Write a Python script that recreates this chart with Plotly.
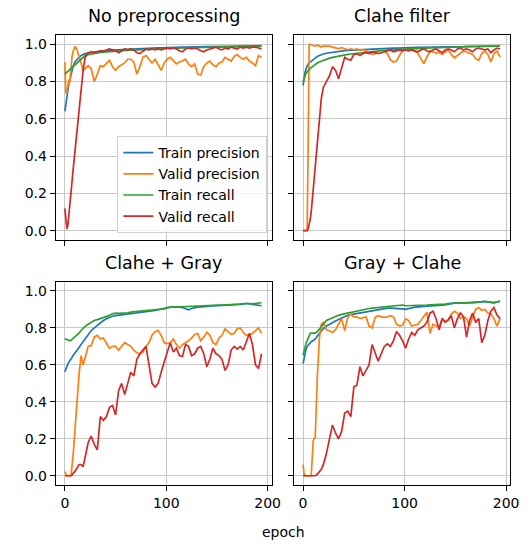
import plotly.graph_objects as go
from plotly.subplots import make_subplots

epochs = [0, 1, 2, 3, 4, 5, 6, 7, 8, 10, 12, 14, 16, 18, 20,
          23, 26, 29, 32, 35, 38, 41, 44, 47, 50, 53, 56, 59, 62,
          65, 68, 71, 74, 77, 80, 83, 86, 89, 92, 95, 98, 101, 104,
          107, 110, 113, 116, 119, 122, 125, 128, 131, 134, 137, 140, 143, 146,
          149, 152, 155, 158, 161, 164, 167, 170, 173, 176, 179, 182, 185, 188, 191, 194]

# No preprocessing
np_train_prec = [0.64, 0.68, 0.72, 0.76, 0.79, 0.81, 0.84, 0.86, 0.88, 0.905, 0.92, 0.93, 0.94, 0.945, 0.95,
                 0.953, 0.957, 0.96, 0.961, 0.963, 0.966, 0.967, 0.968, 0.969, 0.97, 0.971, 0.972, 0.972, 0.974,
                 0.975, 0.975, 0.976, 0.977, 0.977, 0.978, 0.979, 0.979, 0.98, 0.981, 0.981, 0.982, 0.982, 0.983,
                 0.983, 0.984, 0.984, 0.985, 0.985, 0.986, 0.986, 0.986, 0.987, 0.987, 0.987, 0.988, 0.988, 0.988,
                 0.989, 0.989, 0.989, 0.99, 0.99, 0.99, 0.99, 0.991, 0.991, 0.991, 0.991, 0.992, 0.992, 0.992, 0.992, 0.993]
np_valid_prec = [0.905, 0.74, 0.74, 0.78, 0.81, 0.80, 0.90, 0.93, 0.96, 0.99, 0.97, 0.94, 0.90, 0.86, 0.87,
                 0.885, 0.87, 0.80, 0.84, 0.885, 0.88, 0.90, 0.915, 0.88, 0.86, 0.88, 0.89, 0.90, 0.92,
                 0.92, 0.905, 0.84, 0.88, 0.93, 0.94, 0.92, 0.90, 0.92, 0.89, 0.86, 0.90, 0.92, 0.93,
                 0.91, 0.895, 0.905, 0.91, 0.92, 0.895, 0.88, 0.895, 0.84, 0.835, 0.88, 0.90, 0.91, 0.89,
                 0.88, 0.90, 0.905, 0.93, 0.92, 0.91, 0.935, 0.945, 0.93, 0.92, 0.93, 0.91, 0.90, 0.885, 0.94, 0.93]
np_train_rec = [0.84, 0.845, 0.85, 0.853, 0.857, 0.862, 0.868, 0.874, 0.88, 0.89, 0.90, 0.91, 0.92, 0.93, 0.94,
                0.944, 0.948, 0.951, 0.954, 0.956, 0.958, 0.96, 0.961, 0.963, 0.964, 0.965, 0.966, 0.967, 0.968,
                0.969, 0.97, 0.97, 0.971, 0.972, 0.973, 0.974, 0.974, 0.975, 0.976, 0.976, 0.977, 0.978, 0.978,
                0.979, 0.979, 0.98, 0.98, 0.981, 0.981, 0.982, 0.982, 0.982, 0.983, 0.983, 0.984, 0.984, 0.984,
                0.985, 0.985, 0.985, 0.986, 0.986, 0.986, 0.987, 0.987, 0.987, 0.988, 0.988, 0.988, 0.988, 0.989, 0.989, 0.989]
np_valid_rec = [0.12, 0.06, 0.01, 0.03, 0.08, 0.14, 0.20, 0.26, 0.32, 0.43, 0.54, 0.65, 0.76, 0.86, 0.93,
                0.955, 0.96, 0.955, 0.96, 0.965, 0.962, 0.97, 0.975, 0.97, 0.965, 0.955, 0.965, 0.975, 0.97,
                0.975, 0.97, 0.955, 0.95, 0.965, 0.975, 0.97, 0.975, 0.97, 0.975, 0.97, 0.975, 0.98, 0.975,
                0.98, 0.975, 0.965, 0.96, 0.975, 0.98, 0.975, 0.98, 0.975, 0.965, 0.96, 0.97, 0.975, 0.98,
                0.985, 0.975, 0.97, 0.98, 0.975, 0.985, 0.98, 0.975, 0.985, 0.98, 0.985, 0.98, 0.985, 0.985, 0.98, 0.975]

# Clahe filter
cf_train_prec = [0.78, 0.82, 0.85, 0.87, 0.885, 0.895, 0.90, 0.905, 0.91, 0.92, 0.93, 0.935, 0.94, 0.945, 0.948,
                 0.952, 0.955, 0.957, 0.96, 0.962, 0.964, 0.966, 0.967, 0.968, 0.97, 0.971, 0.972, 0.973, 0.974,
                 0.975, 0.976, 0.977, 0.977, 0.978, 0.978, 0.979, 0.979, 0.98, 0.98, 0.981, 0.981, 0.982, 0.982,
                 0.983, 0.983, 0.984, 0.984, 0.984, 0.985, 0.985, 0.985, 0.986, 0.986, 0.986, 0.987, 0.987, 0.987,
                 0.988, 0.988, 0.988, 0.988, 0.989, 0.989, 0.989, 0.989, 0.99, 0.99, 0.99, 0.99, 0.99, 0.991, 0.991, 0.991]
cf_valid_prec = [0.0, 0.0, 0.0, 0.0, 0.0, 0.45, 1.0, 1.0, 0.998, 0.995, 0.99, 0.995, 0.99, 0.985, 0.99,
                 0.99, 0.99, 0.985, 0.982, 0.977, 0.982, 0.977, 0.971, 0.975, 0.971, 0.975, 0.968, 0.971, 0.964,
                 0.953, 0.946, 0.95, 0.964, 0.968, 0.964, 0.95, 0.918, 0.905, 0.91, 0.94, 0.968, 0.971, 0.975,
                 0.971, 0.964, 0.953, 0.923, 0.896, 0.932, 0.964, 0.959, 0.953, 0.957, 0.946, 0.959, 0.968, 0.946,
                 0.928, 0.94, 0.953, 0.964, 0.959, 0.953, 0.946, 0.923, 0.914, 0.95, 0.964, 0.946, 0.905, 0.95, 0.964, 0.932]
cf_train_rec = [0.80, 0.82, 0.835, 0.845, 0.852, 0.86, 0.865, 0.87, 0.875, 0.885, 0.893, 0.90, 0.905, 0.91, 0.915,
                0.92, 0.926, 0.93, 0.934, 0.937, 0.94, 0.943, 0.946, 0.948, 0.95, 0.952, 0.955, 0.957, 0.959,
                0.962, 0.964, 0.965, 0.966, 0.967, 0.968, 0.969, 0.97, 0.97, 0.971, 0.972, 0.973, 0.974, 0.975,
                0.976, 0.977, 0.977, 0.978, 0.979, 0.98, 0.98, 0.981, 0.982, 0.982, 0.983, 0.983, 0.984, 0.984,
                0.985, 0.985, 0.986, 0.986, 0.987, 0.987, 0.987, 0.988, 0.988, 0.988, 0.989, 0.989, 0.989, 0.99, 0.99, 0.99]
cf_valid_rec = [0.0, 0.0, 0.0, 0.0, 0.0, 0.01, 0.03, 0.06, 0.10, 0.22, 0.36, 0.50, 0.62, 0.71, 0.77,
                0.80, 0.83, 0.88, 0.86, 0.815, 0.87, 0.93, 0.92, 0.915, 0.945, 0.95, 0.94, 0.95, 0.955,
                0.95, 0.96, 0.955, 0.95, 0.955, 0.96, 0.965, 0.97, 0.96, 0.965, 0.97, 0.965, 0.97, 0.965,
                0.97, 0.965, 0.96, 0.97, 0.975, 0.965, 0.96, 0.97, 0.975, 0.965, 0.955, 0.97, 0.975, 0.97,
                0.96, 0.975, 0.98, 0.97, 0.975, 0.97, 0.96, 0.975, 0.98, 0.975, 0.97, 0.975, 0.955, 0.97, 0.98, 0.975]

# Clahe + Gray
cg_train_prec = [0.5625, 0.58, 0.595, 0.605, 0.615, 0.622, 0.63, 0.64, 0.65, 0.665, 0.685, 0.70, 0.715, 0.73, 0.745,
                 0.765, 0.786, 0.80, 0.815, 0.83, 0.84, 0.85, 0.857, 0.863, 0.866, 0.868, 0.87, 0.871, 0.873,
                 0.876, 0.879, 0.88, 0.882, 0.884, 0.886, 0.888, 0.891, 0.894, 0.898, 0.902, 0.906, 0.91, 0.912,
                 0.912, 0.913, 0.914, 0.91, 0.902, 0.898, 0.905, 0.91, 0.912, 0.914, 0.916, 0.918, 0.92, 0.92,
                 0.921, 0.921, 0.922, 0.922, 0.923, 0.923, 0.923, 0.924, 0.926, 0.929, 0.932, 0.93, 0.927, 0.925, 0.922, 0.92]
cg_valid_prec = [0.023, 0.005, 0.0, 0.0, 0.0, 0.0, 0.0, 0.05, 0.10, 0.25, 0.42, 0.55, 0.65, 0.60, 0.64,
                 0.70, 0.705, 0.75, 0.76, 0.74, 0.745, 0.72, 0.69, 0.70, 0.70, 0.68, 0.70, 0.72, 0.71,
                 0.70, 0.68, 0.665, 0.66, 0.67, 0.70, 0.72, 0.76, 0.78, 0.786, 0.76, 0.72, 0.715, 0.72,
                 0.74, 0.71, 0.69, 0.71, 0.72, 0.73, 0.745, 0.765, 0.77, 0.73, 0.75, 0.777, 0.76, 0.72,
                 0.71, 0.745, 0.76, 0.795, 0.78, 0.765, 0.77, 0.795, 0.80, 0.775, 0.76, 0.765, 0.77, 0.785, 0.80, 0.77]
cg_train_rec = [0.741, 0.738, 0.735, 0.732, 0.73, 0.73, 0.733, 0.738, 0.742, 0.75, 0.76, 0.772, 0.786, 0.80, 0.808,
                0.82, 0.83, 0.84, 0.845, 0.85, 0.855, 0.86, 0.868, 0.876, 0.88, 0.879, 0.879, 0.88, 0.882,
                0.885, 0.887, 0.889, 0.891, 0.893, 0.894, 0.896, 0.897, 0.899, 0.90, 0.901, 0.903, 0.91, 0.914,
                0.914, 0.913, 0.914, 0.914, 0.914, 0.915, 0.916, 0.917, 0.918, 0.919, 0.92, 0.921, 0.922, 0.922,
                0.923, 0.923, 0.923, 0.924, 0.924, 0.924, 0.925, 0.926, 0.929, 0.932, 0.934, 0.932, 0.93, 0.932, 0.934, 0.936]
cg_valid_rec = [0.0, 0.0, 0.0, 0.0, 0.0, 0.0, 0.0, 0.005, 0.01, 0.025, 0.04, 0.06, 0.06, 0.05, 0.10,
                0.18, 0.215, 0.17, 0.14, 0.32, 0.30, 0.32, 0.37, 0.38, 0.33, 0.46, 0.50, 0.44, 0.50,
                0.56, 0.54, 0.63, 0.66, 0.68, 0.70, 0.60, 0.50, 0.48, 0.50, 0.56, 0.62, 0.67, 0.72,
                0.67, 0.69, 0.65, 0.645, 0.71, 0.70, 0.65, 0.66, 0.69, 0.70, 0.66, 0.59, 0.63, 0.69,
                0.66, 0.65, 0.63, 0.57, 0.60, 0.68, 0.70, 0.685, 0.70, 0.68, 0.72, 0.77, 0.71, 0.60, 0.58, 0.66]

# Gray + Clahe
gc_train_prec = [0.607, 0.64, 0.665, 0.685, 0.70, 0.708, 0.715, 0.72, 0.725, 0.732, 0.74, 0.755, 0.77, 0.785, 0.797,
                 0.81, 0.82, 0.828, 0.837, 0.845, 0.853, 0.862, 0.868, 0.872, 0.875, 0.877, 0.879, 0.883, 0.887,
                 0.89, 0.893, 0.896, 0.90, 0.903, 0.906, 0.907, 0.907, 0.907, 0.906, 0.905, 0.903, 0.90, 0.905,
                 0.909, 0.912, 0.914, 0.915, 0.916, 0.917, 0.918, 0.919, 0.92, 0.92, 0.921, 0.924, 0.928, 0.932,
                 0.934, 0.934, 0.934, 0.934, 0.934, 0.934, 0.935, 0.937, 0.94, 0.942, 0.943, 0.941, 0.938, 0.936, 0.94, 0.943]
gc_valid_prec = [0.06, 0.01, 0.0, 0.0, 0.0, 0.0, 0.0, 0.0, 0.0, 0.19, 0.21, 0.53, 0.74, 0.82, 0.83,
                 0.79, 0.785, 0.775, 0.79, 0.82, 0.85, 0.786, 0.857, 0.875, 0.86, 0.86, 0.85, 0.855, 0.86,
                 0.81, 0.80, 0.857, 0.866, 0.86, 0.857, 0.86, 0.866, 0.86, 0.82, 0.81, 0.815, 0.85, 0.84,
                 0.81, 0.815, 0.82, 0.84, 0.86, 0.884, 0.77, 0.82, 0.81, 0.805, 0.85, 0.835, 0.84, 0.875,
                 0.89, 0.88, 0.85, 0.86, 0.85, 0.81, 0.86, 0.90, 0.91, 0.895, 0.90, 0.88, 0.875, 0.85, 0.81, 0.85]
gc_train_rec = [0.652, 0.68, 0.705, 0.72, 0.73, 0.745, 0.76, 0.77, 0.772, 0.772, 0.772, 0.78, 0.795, 0.805, 0.82,
                0.84, 0.848, 0.855, 0.863, 0.868, 0.873, 0.877, 0.88, 0.884, 0.888, 0.892, 0.896, 0.899, 0.902,
                0.905, 0.907, 0.909, 0.911, 0.913, 0.915, 0.917, 0.919, 0.921, 0.923, 0.925, 0.924, 0.92, 0.92,
                0.921, 0.922, 0.923, 0.923, 0.924, 0.924, 0.925, 0.925, 0.925, 0.926, 0.927, 0.929, 0.931, 0.933,
                0.935, 0.935, 0.934, 0.935, 0.935, 0.934, 0.936, 0.938, 0.94, 0.942, 0.944, 0.942, 0.939, 0.937, 0.941, 0.946]
gc_valid_rec = [0.0, 0.0, 0.0, 0.0, 0.0, 0.0, 0.0, 0.0, 0.0, 0.0, 0.0, 0.008, 0.02, 0.035, 0.06,
                0.12, 0.20, 0.275, 0.23, 0.20, 0.24, 0.34, 0.35, 0.32, 0.48, 0.49, 0.59, 0.54, 0.57,
                0.60, 0.71, 0.67, 0.62, 0.66, 0.70, 0.714, 0.70, 0.73, 0.78, 0.76, 0.73, 0.69, 0.74,
                0.775, 0.76, 0.79, 0.80, 0.81, 0.83, 0.88, 0.89, 0.85, 0.79, 0.85, 0.83, 0.845, 0.866,
                0.80, 0.85, 0.88, 0.86, 0.75, 0.84, 0.88, 0.83, 0.85, 0.72, 0.76, 0.84, 0.89, 0.91, 0.87, 0.85]

names = ['Train precision', 'Valid precision', 'Train recall', 'Valid recall']
colors = ['#1f77b4', '#ff7f0e', '#2ca02c', '#d62728']

panels = [
    ('No preprocessing', 1, 1, [np_train_prec, np_valid_prec, np_train_rec, np_valid_rec]),
    ('Clahe filter', 1, 2, [cf_train_prec, cf_valid_prec, cf_train_rec, cf_valid_rec]),
    ('Clahe + Gray', 2, 1, [cg_train_prec, cg_valid_prec, cg_train_rec, cg_valid_rec]),
    ('Gray + Clahe', 2, 2, [gc_train_prec, gc_valid_prec, gc_train_rec, gc_valid_rec]),
]

W, H = 531, 547
FONT = 'DejaVu Sans'

fig = make_subplots(rows=2, cols=2)

for i, (title, r, c, series) in enumerate(panels):
    for name, col, ys in zip(names, colors, series):
        assert len(ys) == len(epochs), (title, name, len(ys))
        fig.add_trace(go.Scatter(x=epochs, y=ys, name=name, mode='lines',
                                 line=dict(color=col, width=1.7),
                                 showlegend=(i == 0)), row=r, col=c)

# pixel boxes of the four axes (left, right, top, bottom)
boxes = {1: (56.7, 276.7, 35, 240), 2: (299, 519.3, 35, 240),
         3: (56.7, 276.7, 281.7, 485), 4: (299, 519.3, 281.7, 485)}

common = dict(showline=True, mirror=True, linecolor='black', linewidth=1,
              ticks='outside', ticklen=5, tickwidth=1, tickcolor='black',
              showgrid=True, gridcolor='#c8c8c8', gridwidth=1, zeroline=False,
              tickfont=dict(family=FONT, size=14, color='black'))

for k, (x0, x1, y0, y1) in boxes.items():
    sfx = '' if k == 1 else str(k)
    fig.layout['xaxis' + sfx].update(domain=[x0 / W, x1 / W], range=[-9.0, 204.3],
                                     tickvals=[0, 100, 200], showticklabels=(k >= 3), **common)
    fig.layout['yaxis' + sfx].update(domain=[1 - y1 / H, 1 - y0 / H], range=[-0.05, 1.05],
                                     tickvals=[0, 0.2, 0.4, 0.6, 0.8, 1.0], tickformat='.1f',
                                     showticklabels=(k in (1, 3)), **common)
    fig.add_annotation(text=panels[k - 1][0], x=(x0 + x1) / 2 / W, y=1 - (y0 - 7) / H,
                       xref='paper', yref='paper', xanchor='center', yanchor='bottom',
                       showarrow=False, font=dict(family=FONT, size=17.5, color='black'))

fig.add_annotation(text='epoch', x=288 / W, y=1 - 532 / H, xref='paper', yref='paper',
                   xanchor='center', yanchor='middle', showarrow=False,
                   font=dict(family=FONT, size=14, color='black'))

fig.update_layout(
    width=W, height=H, margin=dict(l=0, r=0, t=0, b=0),
    plot_bgcolor='white', paper_bgcolor='white',
    font=dict(family=FONT, size=14, color='black'),
    legend=dict(x=272 / W, y=1 - 233 / H, xanchor='right', yanchor='bottom',
                bgcolor='rgba(255,255,255,0.8)', bordercolor='#d0d0d0', borderwidth=1,
                font=dict(family=FONT, size=14), tracegroupgap=0, itemwidth=30),
)

fig.write_html("out.html", config={'displayModeBar': False},
               post_script="document.body.style.margin='0px';")
